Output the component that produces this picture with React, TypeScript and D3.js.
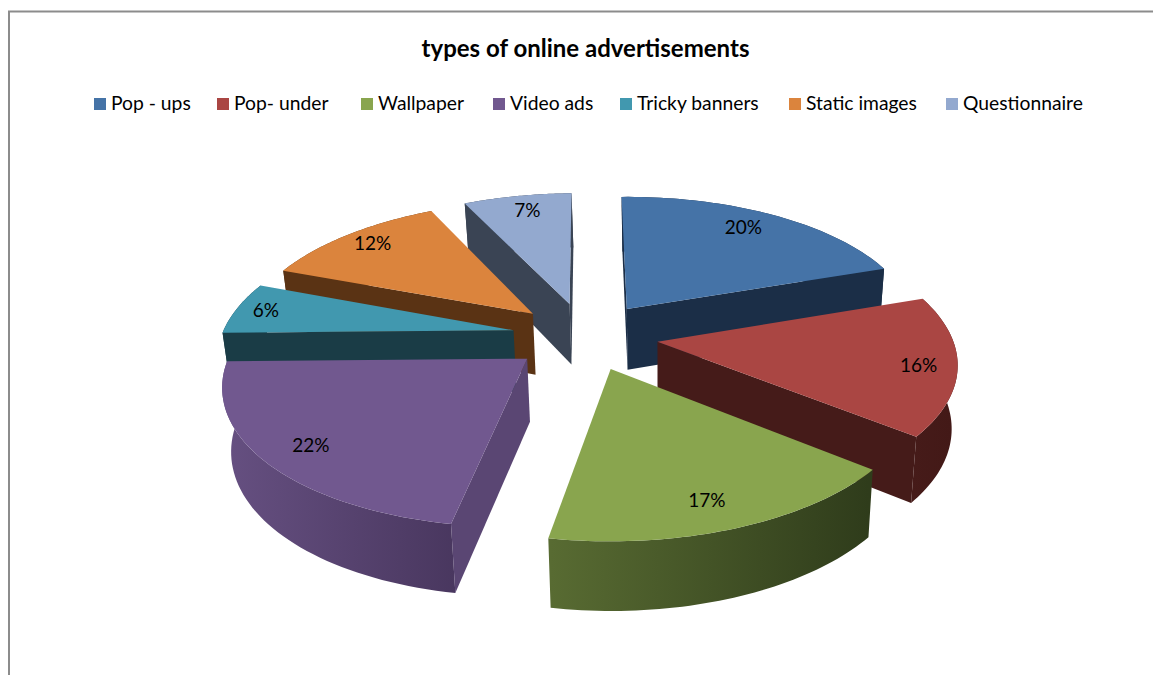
import React from "react";
import * as d3 from "d3";

const categories = ["Pop - ups", "Pop- under", "Wallpaper", "Video ads", "Tricky banners", "Static images", "Questionnaire"];
const shares = [20, 16, 17, 22, 6, 12, 7];
const topColors = ["#4573A7", "#AA4643", "#89A54E", "#71588F", "#4198AF", "#DB843D", "#93A9CF"];
const sideColors = ["#1B2E47", "#451B19", "#37451E", "#5A4673", "#1A3C46", "#5A3314", "#3A4454"];
const wallLeftColors = ["#1B2E47", "#461B19", "#586B32", "#654F80", "#1A3C46", "#5A3314", "#3A4454"];
const wallRightColors = ["#1B2E47", "#431917", "#2F3C1B", "#49375F", "#1A3C46", "#5A3314", "#3A4454"];

// Layout only: legend swatch lefts and small label shifts off the radial position
const legendLefts = [94, 217, 361, 493, 620, 789, 946];
const labelShifts: [number, number][] = [[-9, 0], [7, 3], [-7, -1], [3, 1], [-12, -1], [-1, -2], [3, 0]];

const WIDTH = 1153;
const HEIGHT = 675;
const FONT = "Lato, 'Open Sans', sans-serif";

// Perspective view of the unit-radius pie plane
const CX = 585;
const CY = 336;
const SCALE_X = 293;
const SCALE_Y = 136;
const ROLL = -2.5;
const PERSPECTIVE = 0.148;
const DEPTH = 62;
const EXPLODE = 0.25;
const LABEL_RADIUS = 0.85;
const VANISH_X = 663;
const VANISH_PULL = 0.0204;

type Pt = [number, number];

function project(X: number, Y: number, z: number): Pt {
  const s = 1 / (1 - PERSPECTIVE * Y);
  const px = CX + SCALE_X * X * s;
  return [
    px + (VANISH_X - px) * VANISH_PULL * z,
    CY + (SCALE_Y * Y + ROLL * X) * s + DEPTH * (1 + 0.1 * Y) * z,
  ];
}

const line = d3.line<Pt>();
const closed = (pts: Pt[]) => line(pts) + "Z";

const pie = d3.pie<number>().sort(null).startAngle(0).endAngle(2 * Math.PI);
const slices = pie(shares).map((arc, i) => {
  const mid = (arc.startAngle + arc.endAngle) / 2;
  const ox = EXPLODE * Math.sin(mid);
  const oy = -EXPLODE * Math.cos(mid);
  const at = (angle: number, r: number, z: number) =>
    project(ox + r * Math.sin(angle), oy - r * Math.cos(angle), z);
  const angles = d3.range(0, 49).map((k) => arc.startAngle + ((arc.endAngle - arc.startAngle) * k) / 48);
  return { arc, i, mid, ox, oy, at, angles };
});

// Painter's order: slices further from the viewer are drawn first
const drawOrder = [...slices].sort((a, b) => a.oy - b.oy);

export default function App() {
  return (
    <svg
      width={WIDTH}
      height={HEIGHT}
      viewBox={`0 0 ${WIDTH} ${HEIGHT}`}
      style={{ position: "absolute", left: 0, top: 0, background: "#fff" }}
    >
      <defs>
        {slices.map(({ i, at, angles }) => {
          const xs = angles.map((a) => at(a, 1, 1)[0]);
          return (
            <linearGradient
              key={i}
              id={`wall-${i}`}
              gradientUnits="userSpaceOnUse"
              x1={d3.min(xs)}
              x2={d3.max(xs)}
              y1={0}
              y2={0}
            >
              <stop offset="0" stopColor={wallLeftColors[i]} />
              <stop offset="1" stopColor={wallRightColors[i]} />
            </linearGradient>
          );
        })}
      </defs>

      {/* chart frame */}
      <path d={`M9 ${HEIGHT}V11.5H${WIDTH}`} fill="none" stroke="#8c8c8c" strokeWidth={2} />

      <text x={585.5} y={57} textAnchor="middle" fontFamily={FONT} fontWeight={700} fontSize={24} fill="#000">
        types of online advertisements
      </text>

      {categories.map((name, i) => (
        <g key={name}>
          <rect x={legendLefts[i]} y={98} width={12} height={12} fill={topColors[i]} />
          <text x={legendLefts[i] + 17} y={110} fontFamily={FONT} fontSize={19.3} fill="#000">
            {name}
          </text>
        </g>
      ))}

      {drawOrder.map(({ arc, i, oy, ox, at, angles }) => {
        const start = arc.startAngle;
        const end = arc.endAngle;
        const centre = (z: number) => project(ox, oy, z);
        const startFace = closed([centre(0), at(start, 1, 0), at(start, 1, 1), centre(1)]);
        const endFace = closed([centre(0), at(end, 1, 0), at(end, 1, 1), centre(1)]);
        // A radial face shows only when its outward normal points toward the viewer
        const visibleFaces = [
          { key: "start", d: startFace, facing: -Math.sin(start) },
          { key: "end", d: endFace, facing: Math.sin(end) },
        ].filter((f) => f.facing > -1e-3);
        const rim = closed([
          ...angles.map((a) => at(a, 1, 0)),
          ...[...angles].reverse().map((a) => at(a, 1, 1)),
        ]);
        const top = closed([centre(0), ...angles.map((a) => at(a, 1, 0))]);
        return (
          <g key={i}>
            <path d={rim} fill={`url(#wall-${i})`} />
            {visibleFaces.map((f) => (
              <path key={f.key} d={f.d} fill={sideColors[i]} />
            ))}
            <path d={top} fill={topColors[i]} />
          </g>
        );
      })}

      {slices.map(({ i, mid, at }) => {
        const [x, y] = at(mid, LABEL_RADIUS, 0);
        return (
          <text
            key={i}
            x={x + labelShifts[i][0]}
            y={y + labelShifts[i][1]}
            dy="0.35em"
            textAnchor="middle"
            fontFamily={FONT}
            fontSize={19}
            fill="#000"
          >
            {shares[i]}%
          </text>
        );
      })}
    </svg>
  );
}
